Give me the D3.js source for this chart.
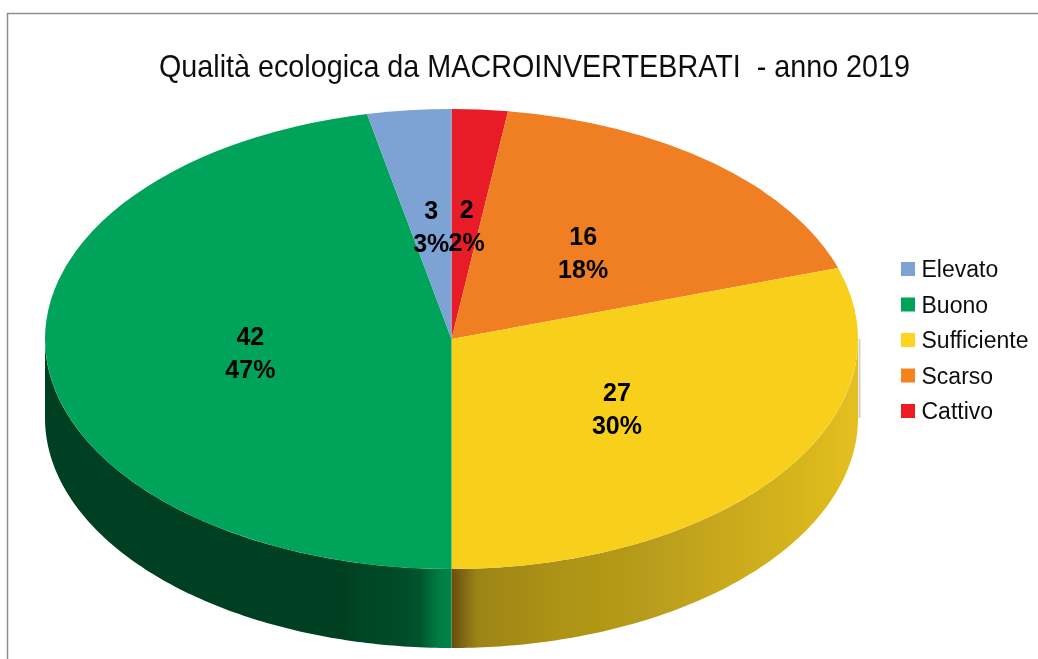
<!DOCTYPE html>
<html><head><meta charset="utf-8">
<script src="https://cdn.jsdelivr.net/npm/d3@7"></script>
<style>html,body{margin:0;padding:0;background:#fff}svg{display:block}text{font-family:"Liberation Sans",Arial,sans-serif}</style>
</head><body><svg id="c" width="1038" height="659"></svg>
<script>
const titleText = "Qualità ecologica da MACROINVERTEBRATI  - anno 2019";
const pieOrder = ["Cattivo","Scarso","Sufficiente","Buono","Elevato"];
const pieValues = [2,16,27,42,3];
const pctLabels = ["2%","18%","30%","47%","3%"];
const legendOrder = ["Elevato","Buono","Sufficiente","Scarso","Cattivo"];
const sliceColors = ["#e81e27","#ef7f21","#f8d01f","#00a35a","#7ba3d4"];
const legendColors = {Elevato:"#7ba3d4",Buono:"#00a35a",Sufficiente:"#ffd320",Scarso:"#f5821f",Cattivo:"#ed1c24"};

const W=1038,H=659,cx=451.5,cy=339,rx=406.5,ry=230,depth=79;
const svg=d3.select("#c");
const defs=svg.append("defs");
defs.append("filter").attr("id","soft").attr("x",0).attr("y",0).attr("width",1).attr("height",1)
  .attr("filterUnits","objectBoundingBox")
  .append("feGaussianBlur").attr("stdDeviation",0.45);
const root=svg.append("g").attr("filter","url(#soft)");
root.append("rect").attr("width",W).attr("height",H).attr("fill","#fff");
root.append("path").attr("d",`M7.5,${H+5}V13.5H${W+5}`).attr("fill","none").attr("stroke","#8e8e8e").attr("stroke-width",1.5);

function grad(id,stops){
  const g=defs.append("linearGradient").attr("id",id).attr("gradientUnits","userSpaceOnUse")
    .attr("x1",cx-rx).attr("x2",cx+rx).attr("y1",0).attr("y2",0);
  stops.forEach(([x,c])=>g.append("stop").attr("offset",(x-(cx-rx))/(2*rx)).attr("stop-color",c));
}
grad("wall2",[[451,"#674c0e"],[462,"#7d6412"],[478,"#9d8417"],[560,"#ad9318"],[650,"#b89c1a"],[720,"#c8a81c"],[800,"#d6b51e"],[858,"#e4c020"]]);
grad("wall3",[[45,"#003f20"],[340,"#004023"],[405,"#004e29"],[420,"#00562c"],[437,"#007a40"],[451,"#008449"]]);

const pie=d3.pie().value(d=>d).sort(null).startAngle(0).endAngle(2*Math.PI);
const arcs=pie(pieValues);
const px=a=>cx+rx*Math.sin(a), py=a=>cy-ry*Math.cos(a);

// pale fringe beside the right end of the wall
root.append("line").attr("x1",cx+rx+1.5).attr("x2",cx+rx+1.5).attr("y1",cy).attr("y2",cy+depth)
  .attr("stroke","#d2d2c8").attr("stroke-width",2);

// side walls, only the front half of the ellipse shows
const wallG=root.append("g");
arcs.forEach((d,i)=>{
  const a0=Math.max(d.startAngle,Math.PI/2),a1=Math.min(d.endAngle,3*Math.PI/2);
  if(a1<=a0)return;
  const n=120,ts=d3.range(n+1).map(k=>a0+(a1-a0)*k/n);
  const pts=ts.map(t=>[px(t),py(t)]).concat(ts.slice().reverse().map(t=>[px(t),py(t)+depth]));
  wallG.append("path").attr("d",d3.line()(pts)+"Z").attr("fill",`url(#wall${i})`);
});

// top face
const arcGen=d3.arc().innerRadius(0).outerRadius(rx);
const topG=root.append("g").attr("transform",`translate(${cx},${cy}) scale(1,${ry/rx})`);
topG.selectAll("path").data(arcs).join("path").attr("d",arcGen).attr("fill",(d,i)=>sliceColors[i]);

// value labels
const labelArc=d3.arc().innerRadius(rx*0.5).outerRadius(rx*0.5);
const lab=root.append("g").attr("font-size",25).attr("font-weight","bold").attr("text-anchor","middle").attr("fill","#000");
arcs.forEach((d,i)=>{
  const [x,y]=labelArc.centroid(d);
  const X=cx+x+1,Y=cy+y*ry/rx;
  lab.append("text").attr("x",X).attr("y",Y-6).text(d.value);
  lab.append("text").attr("x",X).attr("y",Y+27).text(pctLabels[i]);
});

// title
root.append("text").attr("x",534.5).attr("y",77).attr("text-anchor","middle").attr("font-size",32)
  .attr("textLength",751).attr("lengthAdjust","spacingAndGlyphs").attr("fill","#111").style("white-space","pre").text(titleText);

// legend
const ly=d3.scalePoint().domain(legendOrder).range([269,411]);
const leg=root.append("g");
legendOrder.forEach(n=>{
  leg.append("rect").attr("x",901).attr("y",ly(n)-7).attr("width",14).attr("height",14).attr("fill",legendColors[n]);
  leg.append("text").attr("x",921.5).attr("y",ly(n)+8).attr("font-size",23).attr("fill","#111").text(n);
});
</script></body></html>
